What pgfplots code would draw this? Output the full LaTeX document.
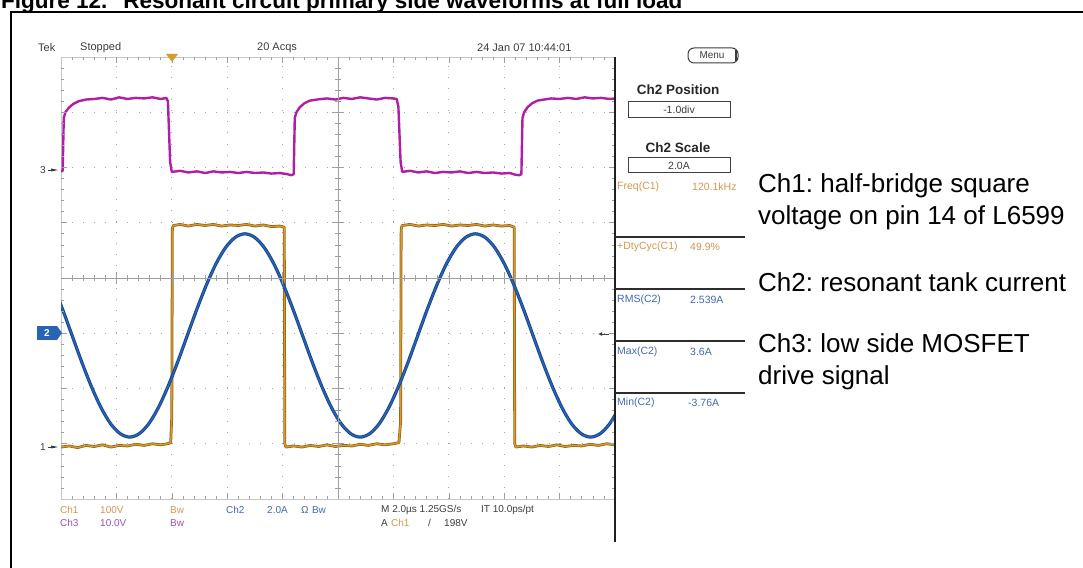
\documentclass[border=0pt]{standalone}
\usepackage{fontspec}
\setmainfont{Liberation Sans}
\usepackage{pgfplots}
\pgfplotsset{compat=1.18}
\usetikzlibrary{arrows.meta}
\definecolor{chone}{RGB}{214,155,45}
\definecolor{chonedark}{RGB}{150,98,22}
\definecolor{chtwo}{RGB}{40,100,180}
\definecolor{chtwodark}{RGB}{25,70,140}
\definecolor{chthree}{RGB}{175,30,165}
\definecolor{orangetxt}{RGB}{212,150,80}
\definecolor{bluetxt}{RGB}{65,105,175}
\definecolor{purpletxt}{RGB}{150,80,190}
\definecolor{tektxt}{RGB}{60,60,60}
\definecolor{gridc}{RGB}{165,165,165}
\frenchspacing
\begin{document}
\begin{tikzpicture}[x=1pt,y=1pt]
\path[use as bounding box] (0pt,0pt) rectangle (1083pt,567pt);
\clip (0pt,0pt) rectangle (1083pt,567pt);
% title (cut off by the page top)
\node[anchor=base west, inner sep=0pt, font=\bfseries\fontsize{22.5}{26}\selectfont] at (1,558) {Figure 12.\hspace{16pt}Resonant circuit primary side waveforms at full load};
% outer frame
\draw[line width=2pt] (11,-5) -- (11,555) -- (1090,555);

\begin{axis}[at={(61pt,68pt)}, anchor=south west, width=554pt, height=442pt, scale only axis,
  xmin=-5, xmax=5, ymin=-4, ymax=4,
  xtick={-4,...,4}, ytick={-3,...,3}, xticklabels={}, yticklabels={},
  major tick length=0pt, grid=major,
  major grid style={gridc, line width=0.8pt, dash pattern=on 0.9pt off 10.18pt},
  axis line style={gray!45, line width=0.6pt}, clip=true]
% Ch1 : half-bridge voltage (orange)
\addplot[chonedark, line width=2.8pt, line join=round] coordinates {
(-5.00,-3.06) (-4.85,-3.04) (-4.70,-3.07) (-4.55,-3.03) (-4.40,-3.05) (-4.25,-3.02) (-4.10,-3.06) (-3.95,-3.03) (-3.80,-3.04) (-3.65,-3.01) (-3.50,-3.03) (-3.35,-3.00) (-3.20,-3.02) (-3.08,-3.00) (-3.02,-2.98) (-3.00,-2.5) (-2.99,0.90) (-2.97,0.95) (-2.85,0.97) (-2.70,0.94) (-2.55,0.97) (-2.40,0.95) (-2.25,0.97) (-2.10,0.94) (-1.95,0.96) (-1.80,0.95) (-1.65,0.97) (-1.50,0.94) (-1.35,0.96) (-1.20,0.93) (-1.05,0.94) (-0.97,0.92) (-0.96,-3.0) (-0.94,-3.06) (-0.80,-3.04) (-0.65,-3.06) (-0.50,-3.03) (-0.35,-3.05) (-0.20,-3.02) (-0.05,-3.05) (0.10,-3.03) (0.25,-3.04) (0.40,-3.01) (0.55,-3.03) (0.70,-3.00) (0.85,-3.02) (1.00,-3.00) (1.10,-2.98) (1.13,-2.6) (1.14,0.90) (1.16,0.95) (1.30,0.97) (1.45,0.94) (1.60,0.96) (1.75,0.95) (1.90,0.97) (2.05,0.94) (2.20,0.96) (2.35,0.95) (2.50,0.97) (2.65,0.94) (2.80,0.96) (2.95,0.94) (3.10,0.95) (3.18,0.92) (3.19,-3.0) (3.21,-3.06) (3.35,-3.04) (3.50,-3.06) (3.65,-3.03) (3.80,-3.05) (3.95,-3.02) (4.10,-3.05) (4.25,-3.03) (4.40,-3.04) (4.55,-3.01) (4.70,-3.03) (4.85,-3.00) (5.00,-3.02)};
\addplot[chone, line width=1.3pt, line join=round] coordinates {
(-5.00,-3.06) (-4.85,-3.04) (-4.70,-3.07) (-4.55,-3.03) (-4.40,-3.05) (-4.25,-3.02) (-4.10,-3.06) (-3.95,-3.03) (-3.80,-3.04) (-3.65,-3.01) (-3.50,-3.03) (-3.35,-3.00) (-3.20,-3.02) (-3.08,-3.00) (-3.02,-2.98) (-3.00,-2.5) (-2.99,0.90) (-2.97,0.95) (-2.85,0.97) (-2.70,0.94) (-2.55,0.97) (-2.40,0.95) (-2.25,0.97) (-2.10,0.94) (-1.95,0.96) (-1.80,0.95) (-1.65,0.97) (-1.50,0.94) (-1.35,0.96) (-1.20,0.93) (-1.05,0.94) (-0.97,0.92) (-0.96,-3.0) (-0.94,-3.06) (-0.80,-3.04) (-0.65,-3.06) (-0.50,-3.03) (-0.35,-3.05) (-0.20,-3.02) (-0.05,-3.05) (0.10,-3.03) (0.25,-3.04) (0.40,-3.01) (0.55,-3.03) (0.70,-3.00) (0.85,-3.02) (1.00,-3.00) (1.10,-2.98) (1.13,-2.6) (1.14,0.90) (1.16,0.95) (1.30,0.97) (1.45,0.94) (1.60,0.96) (1.75,0.95) (1.90,0.97) (2.05,0.94) (2.20,0.96) (2.35,0.95) (2.50,0.97) (2.65,0.94) (2.80,0.96) (2.95,0.94) (3.10,0.95) (3.18,0.92) (3.19,-3.0) (3.21,-3.06) (3.35,-3.04) (3.50,-3.06) (3.65,-3.03) (3.80,-3.05) (3.95,-3.02) (4.10,-3.05) (4.25,-3.03) (4.40,-3.04) (4.55,-3.01) (4.70,-3.03) (4.85,-3.00) (5.00,-3.02)};
% Ch2 : resonant tank current (blue)
\addplot[chtwodark, line width=3.2pt, smooth] coordinates {
(-5.147,-0.12) (-4.973,-0.563) (-4.80,-1.04) (-4.627,-1.517) (-4.453,-1.96) (-4.28,-2.341) (-4.107,-2.634) (-3.933,-2.817) (-3.76,-2.88) (-3.587,-2.817) (-3.413,-2.634) (-3.24,-2.341) (-3.067,-1.96) (-2.893,-1.517) (-2.72,-1.04) (-2.547,-0.563) (-2.373,-0.12) (-2.20,0.261) (-2.027,0.554) (-1.853,0.737) (-1.68,0.80) (-1.507,0.737) (-1.333,0.554) (-1.16,0.261) (-0.987,-0.12) (-0.813,-0.563) (-0.64,-1.04) (-0.467,-1.517) (-0.293,-1.96) (-0.12,-2.341) (0.053,-2.634) (0.227,-2.817) (0.40,-2.88) (0.573,-2.817) (0.747,-2.634) (0.92,-2.341) (1.093,-1.96) (1.267,-1.517) (1.44,-1.04) (1.613,-0.563) (1.787,-0.12) (1.96,0.261) (2.133,0.554) (2.307,0.737) (2.48,0.80) (2.653,0.737) (2.827,0.554) (3.00,0.261) (3.173,-0.12) (3.347,-0.563) (3.52,-1.04) (3.693,-1.517) (3.867,-1.96) (4.04,-2.341) (4.213,-2.634) (4.387,-2.817) (4.56,-2.88) (4.733,-2.817) (4.907,-2.634) (5.08,-2.341)};
\addplot[chtwo, line width=1.4pt, smooth] coordinates {
(-5.147,-0.12) (-4.973,-0.563) (-4.80,-1.04) (-4.627,-1.517) (-4.453,-1.96) (-4.28,-2.341) (-4.107,-2.634) (-3.933,-2.817) (-3.76,-2.88) (-3.587,-2.817) (-3.413,-2.634) (-3.24,-2.341) (-3.067,-1.96) (-2.893,-1.517) (-2.72,-1.04) (-2.547,-0.563) (-2.373,-0.12) (-2.20,0.261) (-2.027,0.554) (-1.853,0.737) (-1.68,0.80) (-1.507,0.737) (-1.333,0.554) (-1.16,0.261) (-0.987,-0.12) (-0.813,-0.563) (-0.64,-1.04) (-0.467,-1.517) (-0.293,-1.96) (-0.12,-2.341) (0.053,-2.634) (0.227,-2.817) (0.40,-2.88) (0.573,-2.817) (0.747,-2.634) (0.92,-2.341) (1.093,-1.96) (1.267,-1.517) (1.44,-1.04) (1.613,-0.563) (1.787,-0.12) (1.96,0.261) (2.133,0.554) (2.307,0.737) (2.48,0.80) (2.653,0.737) (2.827,0.554) (3.00,0.261) (3.173,-0.12) (3.347,-0.563) (3.52,-1.04) (3.693,-1.517) (3.867,-1.96) (4.04,-2.341) (4.213,-2.634) (4.387,-2.817) (4.56,-2.88) (4.733,-2.817) (4.907,-2.634) (5.08,-2.341)};
% Ch3 : low side gate drive (magenta)
\addplot[chthree, line width=2.4pt, line join=round] coordinates {
(-5.00,1.93) (-4.97,1.94) (-4.95,2.90) (-4.92,3.00) (-4.86,3.08) (-4.78,3.15) (-4.68,3.20) (-4.55,3.23) (-4.40,3.24) (-4.25,3.26) (-4.10,3.23) (-3.95,3.27) (-3.80,3.24) (-3.65,3.26) (-3.50,3.25) (-3.35,3.27) (-3.20,3.24) (-3.10,3.26) (-3.07,3.20) (-3.03,2.10) (-3.00,1.92) (-2.85,1.94) (-2.70,1.91) (-2.55,1.93) (-2.40,1.90) (-2.25,1.93) (-2.10,1.91) (-1.95,1.92) (-1.80,1.90) (-1.65,1.92) (-1.50,1.90) (-1.35,1.91) (-1.20,1.89) (-1.05,1.90) (-0.92,1.88) (-0.84,1.86) (-0.80,1.88) (-0.78,2.90) (-0.75,3.00) (-0.69,3.09) (-0.61,3.16) (-0.51,3.21) (-0.38,3.23) (-0.20,3.25) (-0.05,3.23) (0.10,3.26) (0.25,3.24) (0.40,3.27) (0.55,3.25) (0.70,3.23) (0.85,3.26) (1.00,3.25) (1.06,3.24) (1.09,3.10) (1.13,2.10) (1.16,1.92) (1.30,1.94) (1.45,1.91) (1.60,1.93) (1.75,1.90) (1.90,1.92) (2.05,1.91) (2.20,1.93) (2.35,1.90) (2.50,1.92) (2.65,1.90) (2.80,1.91) (2.95,1.89) (3.10,1.90) (3.20,1.87) (3.27,1.86) (3.31,1.88) (3.33,2.90) (3.36,3.00) (3.42,3.09) (3.50,3.16) (3.60,3.21) (3.72,3.23) (3.85,3.25) (4.00,3.24) (4.15,3.26) (4.30,3.24) (4.45,3.27) (4.60,3.25) (4.75,3.26) (4.90,3.24) (5.00,3.25)};
\end{axis}

% graticule ticks
\begin{scope}[gray!75, line width=0.6pt]
\foreach \i in {1,...,49} {
  \draw (61+\i*11.08,510) -- ++(0,-3);
  \draw (61+\i*11.08,68) -- ++(0,3);
  \draw (61+\i*11.08,286) -- ++(0,6);
}
\foreach \i in {1,...,39} {
  \draw (61,68+\i*11.05) -- ++(3,0);
  \draw (615,68+\i*11.05) -- ++(-3,0);
  \draw (335,68+\i*11.05) -- ++(6,0);
}
\foreach \i in {1,...,9} {
  \draw (61+\i*55.4,510) -- ++(0,-6);
  \draw (61+\i*55.4,68) -- ++(0,6);
  \draw (61+\i*55.4,283) -- ++(0,12);
}
\foreach \i in {1,...,7} {
  \draw (61,68+\i*55.25) -- ++(6,0);
  \draw (615,68+\i*55.25) -- ++(-6,0);
  \draw (332,68+\i*55.25) -- ++(12,0);
}
\draw (61,289) -- (615,289);
\draw (338,68) -- (338,510);
\end{scope}

% right panel divider
\draw[line width=1.4pt, gray!25!black] (615,25) -- (615,510);

% top status line
\begin{scope}[font=\fontsize{11}{13}\selectfont, text=tektxt]
\node[anchor=west, inner sep=0pt] at (38,519) {Tek};
\node[anchor=west, inner sep=0pt] at (80,519) {Stopped};
\node[anchor=west, inner sep=0pt] at (257,519) {20 Acqs};
\node[anchor=west, inner sep=0pt] at (477,519) {24 Jan 07 10:44:01};
\end{scope}
% trigger position marker
\fill[chone] (166,513) -- (178,513) -- (172,505) -- cycle;

% channel markers on the left
\node[anchor=west, inner sep=0pt, text=tektxt, font=\fontsize{10}{12}\selectfont] at (40,397) {3};
\fill[tektxt] (51,398.5) -- (58,397) -- (51,395.5) -- cycle;
\draw[tektxt, line width=0.7pt] (48,397) -- (55,397);
\fill[chtwo] (37,227) rectangle (57,241);
\fill[chtwo] (57,241) -- (62,234) -- (57,227) -- cycle;
\node[inner sep=0pt, text=white, font=\bfseries\fontsize{10}{12}\selectfont] at (47,234) {2};
\node[anchor=west, inner sep=0pt, text=tektxt, font=\fontsize{10}{12}\selectfont] at (40,120) {1};
\fill[tektxt] (51,121.5) -- (58,120) -- (51,118.5) -- cycle;
\draw[tektxt, line width=0.7pt] (48,120) -- (55,120);
% trigger level marker on the right
\draw[tektxt, line width=0.9pt, -{Latex[length=4pt,width=4pt]}] (609,233) -- (598,233);

% right panel
\draw[line width=1pt, rounded corners=6pt, tektxt] (688,504) rectangle (738,519);
\draw[line width=2pt, tektxt] (736,506) -- (736,517);
\node[font=\fontsize{10}{12}\selectfont, text=tektxt] at (712,511.5) {Menu};
\node[font=\bfseries\fontsize{13.5}{16}\selectfont, text=black!85] at (678,477) {Ch2 Position};
\draw[line width=1pt, black!75] (628,449) rectangle (730,465);
\node[font=\fontsize{10.5}{12}\selectfont, text=tektxt] at (679,457) {-1.0div};
\node[font=\bfseries\fontsize{13.5}{16}\selectfont, text=black!85] at (678,419) {Ch2 Scale};
\draw[line width=1pt, black!75] (628,394) rectangle (730,409);
\node[font=\fontsize{10.5}{12}\selectfont, text=tektxt] at (679,401.5) {2.0A};

\begin{scope}[font=\fontsize{10.5}{12}\selectfont]
\node[anchor=west, inner sep=0pt, text=orangetxt] at (617,380) {Freq(C1)};
\node[anchor=west, inner sep=0pt, text=orangetxt] at (692,380) {120.1kHz};
\node[anchor=west, inner sep=0pt, text=orangetxt] at (617,320) {+DtyCyc(C1)};
\node[anchor=west, inner sep=0pt, text=orangetxt] at (690,320) {49.9\%};
\node[anchor=west, inner sep=0pt, text=bluetxt] at (617,267) {RMS(C2)};
\node[anchor=west, inner sep=0pt, text=bluetxt] at (690,267) {2.539A};
\node[anchor=west, inner sep=0pt, text=bluetxt] at (617,215) {Max(C2)};
\node[anchor=west, inner sep=0pt, text=bluetxt] at (690,215) {3.6A};
\node[anchor=west, inner sep=0pt, text=bluetxt] at (617,164) {Min(C2)};
\node[anchor=west, inner sep=0pt, text=bluetxt] at (688,164) {-3.76A};
\end{scope}
\foreach \yy in {330,278,226,174} \draw[line width=1.2pt, gray!35!black] (615,\yy) -- (745,\yy);

% bottom status lines
\begin{scope}[font=\fontsize{10}{12}\selectfont]
\node[anchor=west, inner sep=0pt, text=orangetxt] at (60,57) {Ch1};
\node[anchor=west, inner sep=0pt, text=orangetxt] at (100,57) {100V};
\node[anchor=west, inner sep=0pt, text=orangetxt] at (170,57) {Bw};
\node[anchor=west, inner sep=0pt, text=purpletxt] at (60,44) {Ch3};
\node[anchor=west, inner sep=0pt, text=purpletxt] at (100,44) {10.0V};
\node[anchor=west, inner sep=0pt, text=purpletxt] at (170,44) {Bw};
\node[anchor=west, inner sep=0pt, text=bluetxt] at (226,57) {Ch2};
\node[anchor=west, inner sep=0pt, text=bluetxt] at (267,57) {2.0A};
\node[anchor=west, inner sep=0pt, text=bluetxt] at (301,57) {Ω\,\,Bw};
\node[anchor=west, inner sep=0pt, text=tektxt] at (381,57) {M 2.0µs 1.25GS/s};
\node[anchor=west, inner sep=0pt, text=tektxt] at (481,57) {IT 10.0ps/pt};
\node[anchor=west, inner sep=0pt, text=tektxt] at (381,44) {A};
\node[anchor=west, inner sep=0pt, text=orangetxt] at (391,44) {Ch1};
\node[anchor=west, inner sep=0pt, text=tektxt] at (428,44) {/};
\node[anchor=west, inner sep=0pt, text=tektxt] at (444,44) {198V};
\end{scope}

% annotations on the right
\begin{scope}[font=\fontsize{26}{31}\selectfont]
\node[anchor=base west, inner sep=0pt] at (758,374) {Ch1: half-bridge square};
\node[anchor=base west, inner sep=0pt] at (758,342) {voltage on pin 14 of L6599};
\node[anchor=base west, inner sep=0pt] at (758,275) {Ch2: resonant tank current};
\node[anchor=base west, inner sep=0pt] at (758,214) {Ch3: low side MOSFET};
\node[anchor=base west, inner sep=0pt] at (758,182) {drive signal};
\end{scope}
\end{tikzpicture}
\end{document}
